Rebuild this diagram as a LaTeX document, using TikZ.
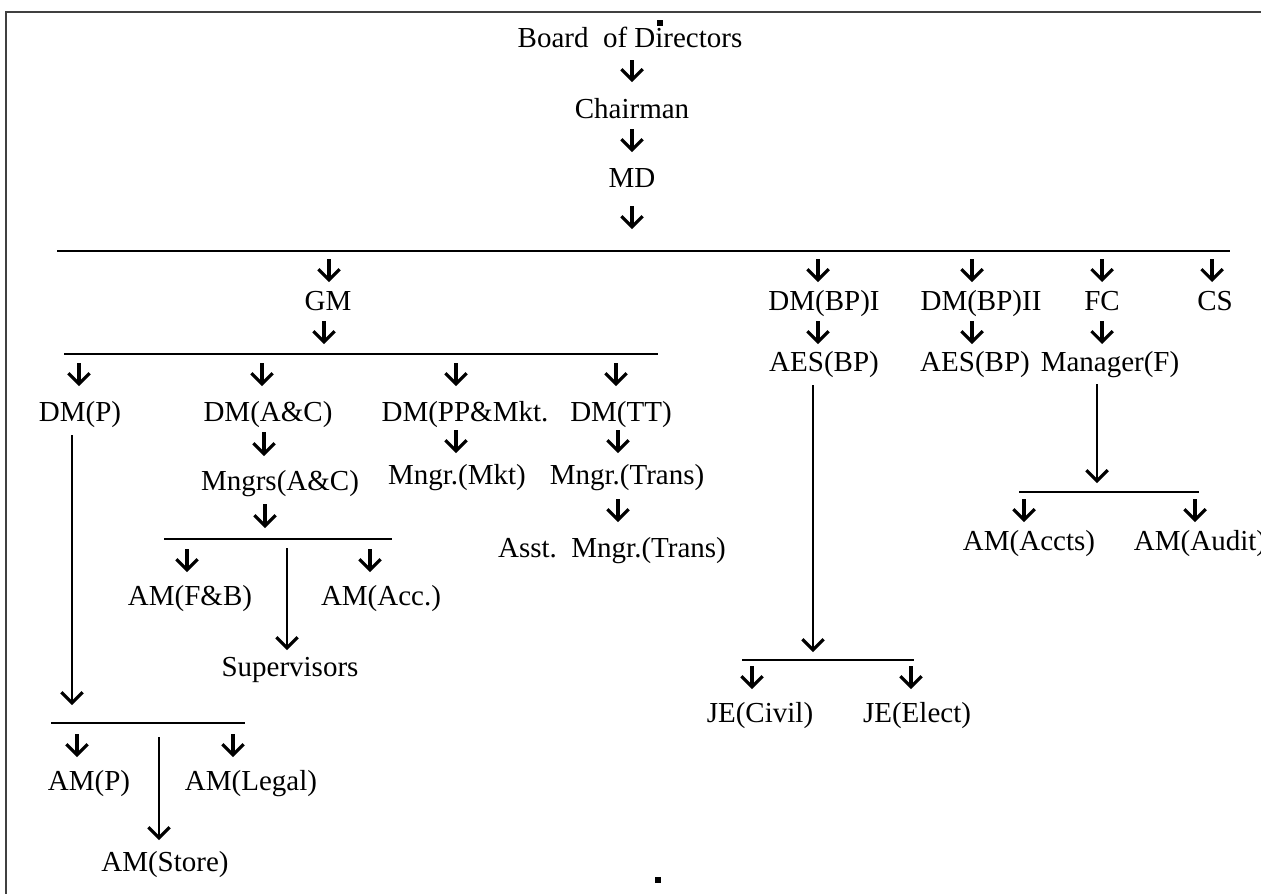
\documentclass[tikz,border=0pt]{standalone}
\usepackage{fontspec}
\setmainfont{Liberation Serif}
\usetikzlibrary{arrows.meta}
\newcommand\varr[5][arr]{\coordinate (#2s) at (#3,#4);\coordinate (#2e) at (#3,#5);\draw[#1] (#2s) -- (#2e);}
\newcommand\mybar[4]{\coordinate (#1l) at (#2,#4);\coordinate (#1r) at (#3,#4);\draw[barline] (#1l) -- (#1r);}
\begin{document}
\begin{tikzpicture}[x=0.75pt,y=-0.75pt,
  lbl/.style={anchor=base, inner sep=0pt, font=\fontsize{21.75}{26}\selectfont},
  arr/.style={line width=2.3pt, -{Straight Barb[length=8pt,width=16pt]}},
  longarr/.style={line width=1.2pt, -{Straight Barb[length=8pt,width=16pt,line width=2.3pt]}},
  barline/.style={line width=1.6pt},
  frameline/.style={line width=1.1pt, draw=black!75},
  handle/.style={fill=black, draw=none}]
\useasboundingbox (0,0) rectangle (1261,894);
% frame
\coordinate (ftl) at (6,12);
\coordinate (ftr) at (1261,12);
\coordinate (fbl) at (6,894);
\draw[frameline] (ftr) -- (ftl) -- (fbl);
% handles
\fill[handle] (657,20) rectangle (663,26);
\fill[handle] (655,877) rectangle (661,883);
% labels
\node[lbl] (bod) at (630,47) {Board\ \ of Directors};
\node[lbl] (chair) at (632,118) {Chairman};
\node[lbl] (md) at (632,187) {MD};
\node[lbl] (gm) at (328,310) {GM};
\node[lbl] (dmbp1) at (824,310) {DM(BP)I};
\node[lbl] (dmbp2) at (981,310) {DM(BP)II};
\node[lbl] (fc) at (1102,310) {FC};
\node[lbl] (cs) at (1215,310) {CS};
\node[lbl] (aes1) at (824,371) {AES(BP)};
\node[lbl] (aes2) at (975,371) {AES(BP)};
\node[lbl] (mgrf) at (1110,371) {Manager(F)};
\node[lbl] (dmp) at (80,421) {DM(P)};
\node[lbl] (dmac) at (268,421) {DM(A\&C)};
\node[lbl] (dmpp) at (465,421) {DM(PP\&Mkt.};
\node[lbl] (dmtt) at (621,421) {DM(TT)};
\node[lbl] (mngrs) at (280,490) {Mngrs(A\&C)};
\node[lbl] (mkt) at (457,484) {Mngr.(Mkt)};
\node[lbl] (trans) at (627,484) {Mngr.(Trans)};
\node[lbl] (asst) at (612,557) {Asst.\ \ Mngr.(Trans)};
\node[lbl] (amfb) at (190,605) {AM(F\&B)};
\node[lbl] (amacc) at (381,605) {AM(Acc.)};
\node[lbl] (sup) at (290,676) {Supervisors};
\node[lbl] (amp) at (89,790) {AM(P)};
\node[lbl] (amlegal) at (251,790) {AM(Legal)};
\node[lbl] (amstore) at (165,871) {AM(Store)};
\node[lbl] (jecivil) at (760,722) {JE(Civil)};
\node[lbl] (jeelect) at (917,722) {JE(Elect)};
\node[lbl] (amaccts) at (1029,550) {AM(Accts)};
\node[lbl] (amaudit) at (1200,550) {AM(Audit)};
% top chain
\varr{a1}{632}{60}{82}
\varr{a2}{632}{129}{152}
\varr{a3}{632}{206}{229}
% bar 1
\mybar{b1}{57}{1230}{251}
\varr{gmA}{329}{259}{282}
\varr{bp1A}{818}{259}{282}
\varr{bp2A}{972}{259}{282}
\varr{fcA}{1102}{259}{282}
\varr{csA}{1212}{259}{282}
\varr{gmB}{324}{321}{344}
\varr{bp1B}{818}{321}{344}
\varr{bp2B}{972}{321}{344}
\varr{fcB}{1102}{321}{344}
% bar 2
\mybar{b2}{64}{658}{354}
\varr{dmpA}{79}{363}{386}
\varr{dmacA}{262}{363}{386}
\varr{dmppA}{456}{363}{386}
\varr{dmttA}{616}{363}{386}
\varr{dmacB}{264}{432}{456}
\varr{dmppB}{456}{430}{453}
\varr{dmttB}{618}{430}{453}
\varr{mngrsA}{265}{504}{528}
\varr{transA}{618}{499}{522}
% bar 3
\mybar{b3}{164}{392}{539}
\varr{amfbA}{187}{549}{572}
\varr{amaccA}{370}{549}{572}
\varr[longarr]{supA}{287}{548}{650}
% DM(P) branch
\varr[longarr]{dmpL}{72}{435}{705}
\mybar{b4}{51}{245}{723}
\varr{ampA}{77}{734}{757}
\varr{amlegalA}{233}{734}{757}
\varr[longarr]{amstoreA}{159}{737}{840}
% AES branch
\varr[longarr]{aesL}{813}{385}{652}
\mybar{b5}{742}{914}{660}
\varr{jecA}{752}{666}{689}
\varr{jeeA}{911}{666}{689}
% Manager(F) branch
\varr[longarr]{mgrL}{1097}{384}{483}
\mybar{b6}{1019}{1199}{492}
\varr{acctsA}{1024}{499}{522}
\varr{auditA}{1195}{499}{522}
\end{tikzpicture}
\end{document}
